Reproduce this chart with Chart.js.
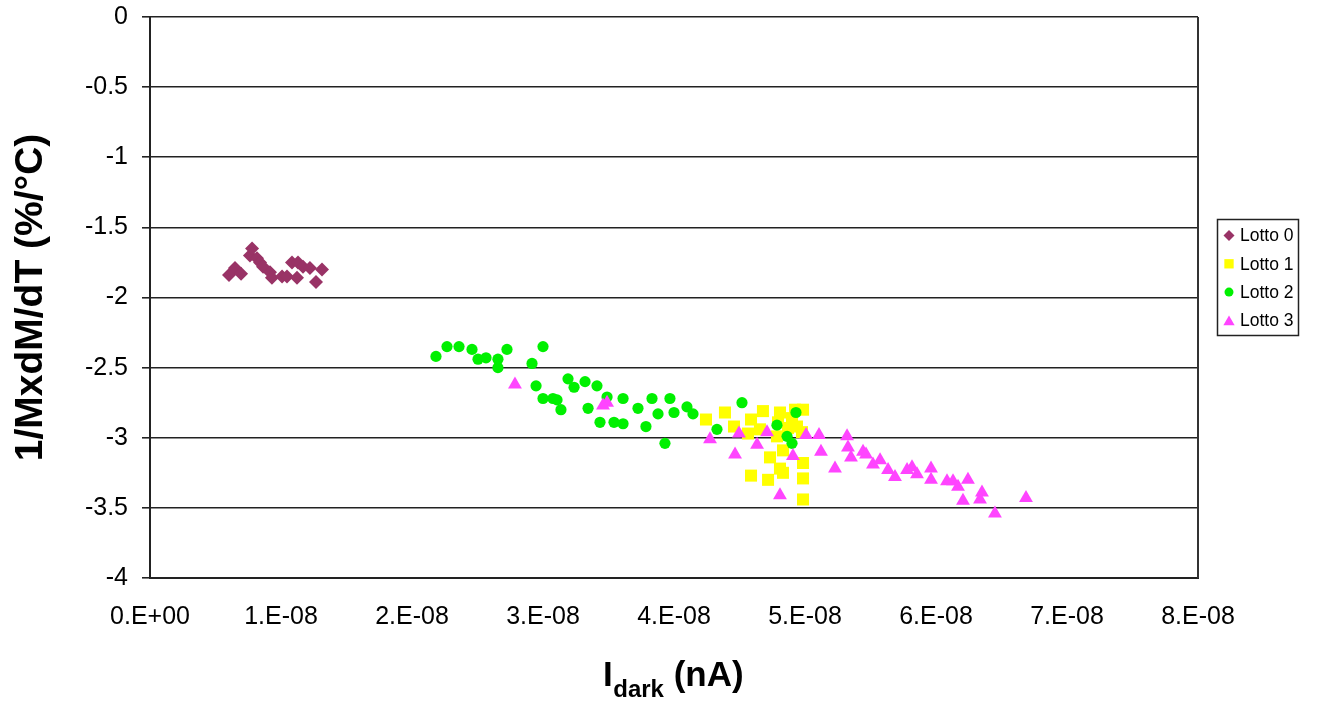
<!DOCTYPE html>
<html>
<head>
<meta charset="utf-8">
<title>1/M dM/dT vs Idark</title>
<script src="https://cdn.jsdelivr.net/npm/chart.js@4/dist/chart.umd.min.js"></script>
<style>
  html, body { margin: 0; padding: 0; background: #ffffff; }
  #wrap { width: 1317px; height: 702px; }
</style>
</head>
<body>
<div id="wrap"><canvas id="c" width="1317" height="702"></canvas></div>
<script>
// ---- data ----
const seriesNames = ['Lotto 0', 'Lotto 1', 'Lotto 2', 'Lotto 3'];

const lotto0X = [0.603e-8, 0.649e-8, 0.695e-8, 0.763e-8, 0.779e-8, 0.817e-8, 0.840e-8, 0.863e-8, 0.916e-8, 0.931e-8,
                 1.008e-8, 1.046e-8, 1.084e-8, 1.130e-8, 1.122e-8, 1.168e-8, 1.221e-8, 1.267e-8, 1.313e-8];
const lotto0Y = [-1.84, -1.79, -1.83, -1.70, -1.65, -1.72, -1.75, -1.78, -1.82, -1.86,
                 -1.85, -1.85, -1.75, -1.75, -1.86, -1.78, -1.79, -1.89, -1.80];

const lotto1X = [4.244e-8, 4.389e-8, 4.458e-8, 4.565e-8, 4.588e-8, 4.679e-8, 4.656e-8, 4.809e-8, 4.794e-8, 4.786e-8,
                 4.832e-8, 4.924e-8, 4.985e-8, 4.939e-8, 4.977e-8, 4.901e-8, 4.870e-8, 4.733e-8, 4.809e-8, 4.832e-8,
                 4.588e-8, 4.718e-8, 4.985e-8, 4.985e-8, 4.985e-8];
const lotto1Y = [-2.87, -2.82, -2.92, -2.97, -2.87, -2.81, -2.94, -2.82, -2.89, -2.99,
                 -3.09, -2.80, -2.80, -2.92, -2.96, -2.86, -2.93, -3.14, -3.22, -3.25,
                 -3.27, -3.30, -3.18, -3.29, -3.44];

const lotto2X = [2.183e-8, 2.267e-8, 2.359e-8, 2.458e-8, 2.504e-8, 2.565e-8, 2.656e-8, 2.656e-8, 2.725e-8, 2.916e-8,
                 3.000e-8, 2.947e-8, 3.000e-8, 3.076e-8, 3.107e-8, 3.137e-8, 3.191e-8, 3.237e-8, 3.321e-8, 3.412e-8,
                 3.344e-8, 3.489e-8, 3.435e-8, 3.542e-8, 3.611e-8, 3.611e-8, 3.725e-8, 3.786e-8, 3.832e-8, 3.878e-8,
                 3.969e-8, 4.000e-8, 3.931e-8, 4.099e-8, 4.145e-8, 4.328e-8, 4.519e-8, 4.786e-8, 4.931e-8, 4.863e-8,
                 4.901e-8];
const lotto2Y = [-2.42, -2.35, -2.35, -2.37, -2.44, -2.43, -2.44, -2.50, -2.37, -2.47,
                 -2.35, -2.63, -2.72, -2.72, -2.73, -2.80, -2.58, -2.64, -2.60, -2.63,
                 -2.79, -2.71, -2.89, -2.89, -2.72, -2.90, -2.79, -2.92, -2.72, -2.83,
                 -2.72, -2.82, -3.04, -2.78, -2.83, -2.94, -2.75, -2.91, -2.82, -2.99,
                 -3.04];

const lotto3X = [2.786e-8, 3.489e-8, 3.458e-8, 4.275e-8, 4.466e-8, 4.496e-8, 4.634e-8, 4.710e-8, 4.809e-8, 4.908e-8,
                 5.008e-8, 5.107e-8, 5.122e-8, 5.229e-8, 5.321e-8, 5.328e-8, 5.351e-8, 5.443e-8, 5.466e-8, 5.519e-8,
                 5.573e-8, 5.634e-8, 5.687e-8, 5.779e-8, 5.817e-8, 5.855e-8, 5.962e-8, 5.962e-8, 6.084e-8, 6.130e-8,
                 6.168e-8, 6.244e-8, 6.206e-8, 6.351e-8, 6.336e-8, 6.450e-8, 6.687e-8];
const lotto3Y = [-2.62, -2.75, -2.77, -3.01, -3.12, -2.97, -3.05, -2.96, -3.41, -3.13,
                 -2.98, -2.98, -3.10, -3.22, -2.99, -3.07, -3.14, -3.10, -3.12, -3.19,
                 -3.16, -3.23, -3.28, -3.23, -3.21, -3.26, -3.22, -3.30, -3.31, -3.31,
                 -3.35, -3.30, -3.45, -3.39, -3.44, -3.54, -3.43];

const xTickLabels = ['0.E+00', '1.E-08', '2.E-08', '3.E-08', '4.E-08', '5.E-08', '6.E-08', '7.E-08', '8.E-08'];
const yTickLabels = ['-4', '-3.5', '-3', '-2.5', '-2', '-1.5', '-1', '-0.5', '0'];

const yAxisTitle = '1/MxdM/dT (%/\u00B0C)';
const xAxisTitleMain = 'I';
const xAxisTitleSub = 'dark';
const xAxisTitleTail = ' (nA)';

// ---- helpers ----
const FONT = '"Liberation Sans", Arial, sans-serif';
const zip = (xs, ys) => xs.map((x, i) => ({ x: x, y: ys[i] }));

const styles = [
  { color: '#993366', pointStyle: 'rectRot',  radius: 7,   legendRadius: 5.5 },
  { color: '#ffff00', pointStyle: 'rect',     radius: 8.5, legendRadius: 6.6 },
  { color: '#00f000', pointStyle: 'circle',   radius: 5.6, legendRadius: 4.5 },
  { color: '#ff44ff', pointStyle: 'triangle', radius: 8,   legendRadius: 6.5 }
];
const seriesData = [zip(lotto0X, lotto0Y), zip(lotto1X, lotto1Y), zip(lotto2X, lotto2Y), zip(lotto3X, lotto3Y)];

const datasets = seriesNames.map((name, i) => ({
  label: name,
  data: seriesData[i],
  pointStyle: styles[i].pointStyle,
  pointRadius: styles[i].radius,
  pointHoverRadius: styles[i].radius,
  backgroundColor: styles[i].color,
  borderColor: styles[i].color,
  borderWidth: 0,
  showLine: false,
  order: 4 - i
}));

// right edge of the plot frame
const frameBorder = {
  id: 'frameBorder',
  afterDatasetsDraw(chart) {
    const { ctx, chartArea } = chart;
    ctx.save();
    ctx.strokeStyle = '#333333';
    ctx.lineWidth = 2;
    ctx.beginPath();
    ctx.moveTo(chartArea.right, chartArea.top);
    ctx.lineTo(chartArea.right, chartArea.bottom);
    ctx.stroke();
    ctx.restore();
  }
};

// x-axis title with subscript
const xTitle = {
  id: 'xTitle',
  afterDraw(chart) {
    const ctx = chart.ctx;
    ctx.save();
    ctx.fillStyle = '#000';
    ctx.textBaseline = 'alphabetic';
    ctx.textAlign = 'left';
    let x = 603;
    ctx.font = 'bold 35px ' + FONT;
    ctx.fillText(xAxisTitleMain, x, 686);
    x += ctx.measureText(xAxisTitleMain).width + 0.5;
    ctx.font = 'bold 24px ' + FONT;
    ctx.fillText(xAxisTitleSub, x, 697);
    x += ctx.measureText(xAxisTitleSub).width;
    ctx.font = 'bold 35px ' + FONT;
    ctx.fillText(xAxisTitleTail, x, 686);
    ctx.restore();
  }
};

// boxed legend on the right
const boxLegend = {
  id: 'boxLegend',
  afterDraw(chart) {
    const ctx = chart.ctx;
    const bx = 1217.5, by = 219.5, bw = 81, bh = 116;
    ctx.save();
    ctx.fillStyle = '#ffffff';
    ctx.fillRect(bx, by, bw, bh);
    ctx.strokeStyle = '#222222';
    ctx.lineWidth = 1.5;
    ctx.strokeRect(bx, by, bw, bh);
    ctx.font = '17.5px ' + FONT;
    ctx.textBaseline = 'middle';
    ctx.textAlign = 'left';
    chart.data.datasets.forEach((ds, i) => {
      const cy = 235.5 + i * 28.3;
      ctx.fillStyle = ds.backgroundColor;
      Chart.helpers.drawPoint(ctx, {
        pointStyle: ds.pointStyle,
        radius: styles[i].legendRadius,
        rotation: 0,
        borderWidth: 0
      }, 1229, ds.pointStyle === 'triangle' ? cy + 1.5 : cy);
      ctx.fillStyle = '#000';
      ctx.fillText(ds.label, 1240, cy + 1);
    });
    ctx.restore();
  }
};

new Chart(document.getElementById('c'), {
  type: 'scatter',
  data: { datasets: datasets },
  plugins: [frameBorder, xTitle, boxLegend],
  options: {
    responsive: false,
    animation: false,
    devicePixelRatio: 1,
    layout: { padding: { top: 17, right: 119, left: 0, bottom: 0 } },
    plugins: {
      legend: { display: false },
      tooltip: { enabled: false },
      title: { display: false }
    },
    scales: {
      x: {
        type: 'linear',
        min: 0,
        max: 8e-8,
        afterFit(scale) {
          scale.height = 124;
          scale.paddingLeft = 0;
          scale.paddingRight = 0;
        },
        ticks: {
          stepSize: 1e-8,
          padding: 24,
          color: '#000',
          font: { family: FONT, size: 25 },
          maxRotation: 0,
          callback: (v, i) => xTickLabels[i]
        },
        grid: { display: false, drawTicks: false },
        border: { display: true, color: '#222222', width: 2 }
      },
      y: {
        type: 'linear',
        min: -4,
        max: 0,
        afterFit(scale) {
          scale.width = 150;
          scale.paddingTop = 0;
          scale.paddingBottom = 0;
        },
        ticks: {
          stepSize: 0.5,
          padding: 14,
          color: '#000',
          font: { family: FONT, size: 25 },
          callback: (v, i) => yTickLabels[i]
        },
        grid: { color: '#222222', lineWidth: 1.6, tickLength: 8, drawTicks: true },
        border: { display: true, color: '#222222', width: 2 },
        title: {
          display: true,
          text: yAxisTitle,
          color: '#000',
          font: { family: FONT, size: 39, weight: 'bold', lineHeight: 1 },
          padding: { top: 12, bottom: 0 }
        }
      }
    }
  }
});
</script>
</body>
</html>
